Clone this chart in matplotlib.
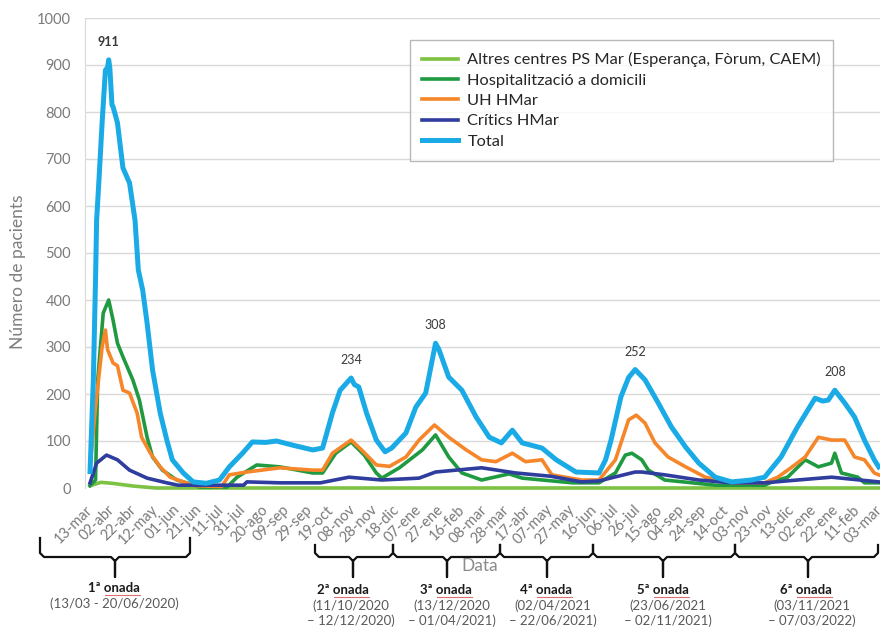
import numpy as np
import pandas as pd
import matplotlib
matplotlib.use("Agg")
import matplotlib.pyplot as plt
from matplotlib.lines import Line2D

plt.rcParams['font.family'] = ['Lato', 'DejaVu Sans']

# ---------------- data (x = days since 13/03/2020) ----------------
tick_labels = ["13-mar", "02-abr", "22-abr", "12-may", "01-jun", "21-jun", "11-jul",
               "31-jul", "20-ago", "09-sep", "29-sep", "19-oct", "08-nov", "28-nov",
               "18-dic", "07-ene", "27-ene", "16-feb", "08-mar", "28-mar", "17-abr",
               "07-may", "27-may", "16-jun", "06-jul", "26-jul", "15-ago", "04-sep",
               "24-sep", "14-oct", "03-nov", "23-nov", "13-dic", "02-ene", "22-ene",
               "11-feb", "03-mar"]
tick_days = [0, 20, 40, 60, 80, 100, 120, 140, 160, 180, 200, 220, 240, 260, 280,
             300, 320, 340, 360, 380, 400, 420, 440, 460, 480, 500, 520, 540, 560,
             580, 600, 620, 640, 660, 680, 700, 720]

total_days = [0, 3, 5, 6, 8, 11, 14, 16, 17, 18, 20, 21, 25, 28, 30, 36, 41, 44, 48,
              52, 57, 64, 70, 75, 85, 94, 106, 118, 127, 139, 148, 160, 170, 185, 203,
              212, 221, 228, 238, 241, 245, 252, 261, 269, 275, 288, 297, 306, 315,
              318, 327, 339, 352, 364, 375, 385, 394, 412, 425, 443, 464, 470, 475,
              484, 491, 497, 506, 518, 530, 543, 555, 570, 585, 603, 615, 630, 645,
              661, 668, 673, 679, 688, 697, 706, 715, 719]
total_vals = [35, 230, 443, 570, 650, 777, 889, 895, 911, 895, 815, 811, 777, 719, 681,
              649, 570, 464, 421, 351, 251, 159, 102, 60, 32, 13, 10, 17, 45, 74, 98,
              97, 100, 91, 81, 85, 160, 208, 234, 220, 215, 160, 102, 77, 85, 117, 172,
              202, 308, 295, 236, 208, 151, 108, 96, 123, 96, 85, 60, 34, 32, 60, 102,
              194, 235, 252, 230, 181, 130, 87, 53, 23, 13, 17, 23, 66, 130, 191, 185,
              187, 208, 181, 151, 102, 60, 45]

uh_days = [0, 5, 11, 14, 16, 21, 25, 30, 36, 43, 47, 55, 64, 73, 85, 95, 120, 127, 143,
           173, 203, 212, 221, 238, 248, 261, 273, 288, 300, 314, 327, 343, 357, 370,
           385, 397, 412, 421, 448, 464, 479, 491, 498, 506, 515, 527, 543, 561, 585,
           615, 627, 639, 652, 664, 676, 688, 697, 706, 715, 719]
uh_vals = [45, 172, 300, 336, 294, 266, 260, 208, 202, 159, 108, 74, 45, 23, 13, 5, 3,
           28, 34, 43, 38, 38, 74, 102, 80, 49, 46, 66, 102, 134, 108, 81, 60, 56, 74,
           56, 60, 28, 17, 17, 60, 145, 155, 138, 96, 66, 45, 23, 11, 11, 23, 43, 66,
           108, 102, 102, 66, 60, 32, 28]

hosp_days = [0, 5, 7, 12, 17, 21, 25, 30, 39, 45, 52, 57, 66, 79, 88, 100, 125, 134,
             152, 173, 203, 212, 224, 238, 250, 261, 266, 282, 303, 315, 327, 339, 357,
             382, 394, 440, 464, 479, 488, 494, 503, 509, 524, 570, 615, 622, 636, 652,
             664, 676, 679, 685, 700, 706, 719]
hosp_vals = [5, 17, 230, 372, 400, 357, 308, 279, 230, 187, 108, 66, 38, 17, 11, 2, 2,
             23, 49, 45, 32, 32, 74, 98, 70, 32, 21, 43, 81, 113, 66, 32, 17, 30, 21,
             11, 11, 32, 70, 74, 60, 38, 17, 6, 6, 13, 23, 60, 45, 53, 74, 32, 23, 11, 11]

crit_days = [0, 6, 15, 25, 36, 52, 70, 80, 140, 143, 173, 210, 236, 266, 300, 315, 357,
             388, 420, 448, 464, 497, 503, 524, 555, 585, 615, 645, 676, 719]
crit_vals = [11, 53, 70, 60, 38, 21, 11, 6, 6, 13, 11, 11, 23, 17, 21, 34, 43, 32, 25,
             13, 15, 34, 34, 28, 17, 11, 11, 17, 23, 13]

altres_days = [0, 10, 20, 40, 60, 719]
altres_vals = [5, 12, 10, 4, 0, 0]

peak_labels = ["911", "234", "308", "252", "208"]
peak_days = [17, 238, 315, 497, 679]
peak_vals = [911, 234, 308, 252, 208]

series_names = ["Altres centres PS Mar (Esperança, Fòrum, CAEM)",
                "Hospitalització a domicili", "UH HMar", "Crítics HMar", "Total"]

wave_titles = ["1ª onada", "2ª onada", "3ª onada", "4ª onada", "5ª onada", "6ª onada"]
wave_dates = [["(13/03 - 20/06/2020)"],
              ["(11/10/2020", "– 12/12/2020)"],
              ["(13/12/2020", "– 01/04/2021)"],
              ["(02/04/2021", "– 22/06/2021)"],
              ["(23/06/2021", "– 02/11/2021)"],
              ["(03/11/2021", "– 07/03/2022)"]]

# ---------------- figure ----------------
W, H = 880, 627
fig = plt.figure(figsize=(W / 100, H / 100), dpi=100)
def fx(px): return px / W
def fy(py): return 1 - py / H

ax = fig.add_axes([fx(85), fy(488), fx(880) - fx(85), fy(18) - fy(488)])
ax.set_xlim(-4.6, 720.2)
ax.set_ylim(0, 1000)

grid_c = "#D9D9D9"
ax.set_yticks(range(0, 1001, 100))
ax.yaxis.grid(True, color=grid_c, lw=1)
ax.set_axisbelow(True)
for s in ["top", "right", "bottom"]:
    ax.spines[s].set_visible(False)
ax.spines["left"].set_color(grid_c)
ax.tick_params(axis="y", length=0, labelsize=10.5, labelcolor="#7A7A7A", pad=10)

ax.set_xticks(tick_days)
ax.set_xticklabels(tick_labels, rotation=45, ha="right", va="center",
                   rotation_mode="anchor", fontsize=10.5, color="#7A7A7A")
ax.tick_params(axis="x", length=0, pad=14)

colors = ["#7DC242", "#1F9A40", "#F5862A", "#2E3D9E", "#1AABE6"]
lws = [2.6, 2.6, 2.6, 2.6, 3.6]
data = [(altres_days, altres_vals), (hosp_days, hosp_vals), (uh_days, uh_vals),
        (crit_days, crit_vals), (total_days, total_vals)]
for (d, v), c, lw, name in zip(data, colors, lws, series_names):
    ax.plot(d, v, color=c, lw=lw, label=name, solid_joinstyle="round", clip_on=False)

for lab, d, v in zip(peak_labels, peak_days, peak_vals):
    ax.annotate(lab, xy=(d, v), xytext=(0, 13), textcoords="offset points",
                ha="center", va="center", fontsize=9, color="#3A3A3A",
                fontweight="bold" if lab == "911" else "normal")

leg = fig.legend(loc="upper left", bbox_to_anchor=(fx(410), fy(40)), borderaxespad=0,
                 frameon=True, fancybox=False, fontsize=11.8, handlelength=2.2,
                 labelspacing=0.36, borderpad=0.75, handletextpad=0.55)
leg.get_frame().set_edgecolor("#A6A6A6")
leg.get_frame().set_linewidth(1.0)
for t in leg.get_texts():
    t.set_color("#262626")

fig.text(fx(18), fy(272), "Número de pacients", rotation=90, ha="center", va="center",
         fontsize=12.5, color="#7F7F7F")
fig.text(fx(480), fy(566), "Data", ha="center", va="center", fontsize=12.5,
         color="#8A8A8A")

# ---------------- wave braces ----------------
braces = [(40, 190, 115, 538), (315, 393, 353, 545), (393, 500, 447, 545),
          (500, 593, 547, 545), (593, 735, 663, 545), (735, 878, 808, 545)]
ybar, ybot, r = 557, 577, 4
for x1, x2, xm, yt in braces:
    pts = [(x1, yt), (x1, ybar - r), (x1 + r, ybar), (xm - r, ybar), (xm, ybar + r),
           (xm, ybot), (xm, ybar + r), (xm + r, ybar), (x2 - r, ybar), (x2, ybar - r),
           (x2, yt)]
    xs = [fx(p[0]) for p in pts]
    ys = [fy(p[1]) for p in pts]
    fig.add_artist(Line2D(xs, ys, transform=fig.transFigure, color="#111111", lw=1.6,
                          solid_joinstyle="round"))

title_pos = [(114, 588), (343, 590), (446, 590), (546, 590), (663, 590), (806, 590)]
date_x = [114, 351, 452, 553, 668, 812]
texts = []
for (tx, ty), title, dl, dx in zip(title_pos, wave_titles, wave_dates, date_x):
    t = fig.text(fx(tx), fy(ty), title, ha="center", va="center", fontsize=9.5,
                 fontweight="bold", color="#1A1A1A")
    texts.append(t)
    for i, line in enumerate(dl):
        fig.text(fx(dx), fy(ty + 16 + 15 * i), line, ha="center", va="center",
                 fontsize=9.5, color="#595959")

fig.canvas.draw()
rend = fig.canvas.get_renderer()
for t in texts:
    bb = t.get_window_extent(renderer=rend)
    x0 = bb.x0 + 0.33 * bb.width
    fig.add_artist(Line2D([x0 / W, bb.x1 / W], [(bb.y0 - 1) / H, (bb.y0 - 1) / H],
                          transform=fig.transFigure, color="#E07070", lw=0.8))

fig.savefig("out.png", dpi=100)
